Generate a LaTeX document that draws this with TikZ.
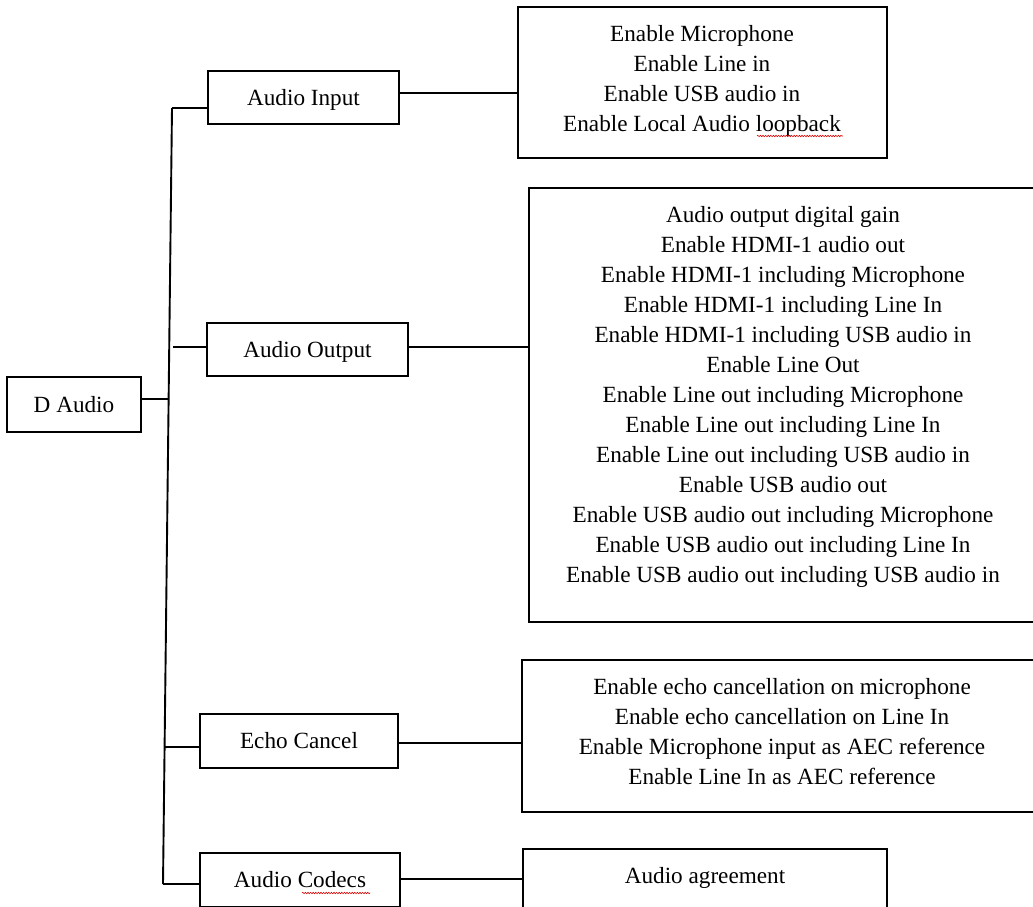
\documentclass[tikz,border=0pt]{standalone}
\usepackage{fontspec}
\setmainfont{Liberation Serif}
\usetikzlibrary{calc,decorations.pathmorphing}
\tikzset{
  box/.style={draw, line width=2pt, inner sep=0pt},
  boxtext/.style={font=\fontsize{23.2}{30}\selectfont, align=center, inner sep=0pt},
  catbox/.style={box, boxtext, text height=18pt, text depth=3pt},
  link/.style={line width=1.9pt},
  spell/.style={red!85!black, line width=0.6pt, decorate,
    decoration={snake, amplitude=0.7pt, segment length=2.6pt}}
}
\begin{document}
\begin{tikzpicture}[x=1pt,y=-1pt]
\useasboundingbox (0,0) rectangle (1033,906);

% category boxes
\node[catbox, minimum width=134pt, minimum height=55pt] (da)  at (74,404.5)  {D Audio};
\node[catbox, minimum width=191pt, minimum height=53pt] (ai)  at (303.5,97.5) {Audio Input};
\node[catbox, minimum width=201pt, minimum height=53pt] (ao)  at (307.5,349.5) {Audio Output};
\node[catbox, minimum width=198pt, minimum height=54pt] (ec)  at (299,741)   {Echo Cancel};
\node[catbox, minimum width=200pt, minimum height=54pt] (cod) at (300,880)   {Audio Codecs};

% detail boxes
\node[box, minimum width=369pt, minimum height=151pt] (aidet)  at (702.5,82.5) {};
\node[box, minimum width=511pt, minimum height=434pt] (aodet)  at (784.5,405)  {};
\node[box, minimum width=522pt, minimum height=152pt] (ecdet)  at (783,736)    {};
\node[box, minimum width=364pt, minimum height=150pt] (coddet) at (705,924)    {};

% detail texts
\node[boxtext] (aitxt) at (702,80.5) {Enable Microphone\\Enable Line in\\Enable USB audio in\\Enable Local Audio loopback};
\node[boxtext] (aotxt) at (783,397) {Audio output digital gain\\
  Enable HDMI-1 audio out\\
  Enable HDMI-1 including Microphone\\
  Enable HDMI-1 including Line In\\
  Enable HDMI-1 including USB audio in\\
  Enable Line Out\\
  Enable Line out including Microphone\\
  Enable Line out including Line In\\
  Enable Line out including USB audio in\\
  Enable USB audio out\\
  Enable USB audio out including Microphone\\
  Enable USB audio out including Line In\\
  Enable USB audio out including USB audio in};
\node[boxtext] (ectxt) at (782,731.5) {Enable echo cancellation on microphone\\
  Enable echo cancellation on Line In\\
  Enable Microphone input as AEC reference\\
  Enable Line In as AEC reference};
\node[boxtext] (codtxt) at (705,877.5) {Audio agreement};

% trunk
\coordinate (ttop) at (172,108);
\coordinate (tbot) at (163,884);
\coordinate (tda) at ($(ttop)!0.375!(tbot)$);
\coordinate (tec) at ($(ttop)!0.8235!(tbot)$);
\coordinate (tao) at (173,347);
\draw[link] (ttop) -- (tbot);

% branches to categories
\draw[link] ([yshift=5.5pt]da.east) -- (tda);
\draw[link] (ttop) -- ([yshift=-10.5pt]ai.west);
\draw[link] (tao) -- ([yshift=2.5pt]ao.west);
\draw[link] (tec) -- ([yshift=-6pt]ec.west);
\draw[link] (tbot) -- ([yshift=-4pt]cod.west);

% categories to details
\draw[link] ([yshift=4.5pt]ai.east) -- ([yshift=4.5pt]ai.east -| aidet.west);
\draw[link] ([yshift=2.5pt]ao.east) -- ([yshift=2.5pt]ao.east -| aodet.west);
\draw[link] ([yshift=-2pt]ec.east) -- ([yshift=-2pt]ec.east -| ecdet.west);
\draw[link] ([yshift=1pt]cod.east) -- ([yshift=1pt]cod.east -| coddet.west);

% spell-check marks
\draw[spell] (757,136) -- (843,136);
\draw[spell] (302,893) -- (370,893);
\end{tikzpicture}
\end{document}
